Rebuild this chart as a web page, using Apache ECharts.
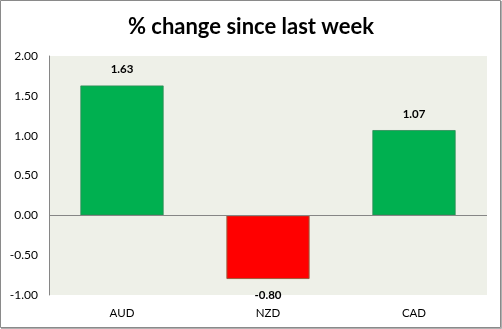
<!DOCTYPE html>
<html><head><meta charset="utf-8">
<script src="https://cdn.jsdelivr.net/npm/echarts@6/dist/echarts.min.js"></script>
<style>html,body{margin:0;padding:0;background:#fff}#c{width:502px;height:329px}</style>
</head><body><div id="c"></div>
<script>
const categories = ['AUD', 'NZD', 'CAD'];
const values = [1.63, -0.80, 1.07];
const yTicks = [-1.00, -0.50, 0.00, 0.50, 1.00, 1.50, 2.00];
const title = '% change since last week';

const chart = echarts.init(document.getElementById('c'), null, {renderer: 'canvas'});
const font = 'Lato, "Open Sans", sans-serif';
chart.setOption({
  animation: false,
  backgroundColor: '#ffffff',
  title: {text: title, left: 'center', top: 11,
    textStyle: {fontFamily: font, fontSize: 22, fontWeight: 'bold', color: '#000'}},
  grid: {left: 49, right: 15, top: 56, bottom: 34, show: true, backgroundColor: '#EEF0E8', borderWidth: 0},
  xAxis: {type: 'category', data: categories,
    axisLine: {show: false, onZero: false}, axisTick: {show: false},
    axisLabel: {fontFamily: font, fontSize: 11.5, color: '#000', margin: 12}},
  yAxis: {type: 'value', min: yTicks[0], max: yTicks[yTicks.length - 1], interval: 0.5,
    axisLine: {show: true, lineStyle: {color: '#868686'}}, axisTick: {show: false}, splitLine: {show: false},
    axisLabel: {fontFamily: font, fontSize: 12, color: '#000', margin: 11, formatter: v => v.toFixed(2)}},
  graphic: [{type: 'rect', shape: {x: 0.5, y: 0.5, width: 500, height: 327},
    style: {fill: 'none', stroke: '#8a8a8a', lineWidth: 1}, silent: true},
    {type: 'polyline', shape: {points: [[501.5, 1], [501.5, 328.5], [1, 328.5]]},
    style: {fill: 'none', stroke: '#b0b0b0', lineWidth: 1}, silent: true}],
  series: [{type: 'bar', barWidth: '57%',
    data: values.map(v => ({value: v,
      itemStyle: v >= 0 ? {color: '#00B050', borderColor: '#2E8B57', borderWidth: 0.8}
                        : {color: '#FF0000', borderColor: '#9C5A3C', borderWidth: 1},
      label: {position: v >= 0 ? 'top' : 'bottom'}})),
    label: {show: true, distance: 10, fontFamily: font, fontSize: 11.5, fontWeight: 'bold', color: '#000',
      formatter: p => p.value.toFixed(2)},
    markLine: {silent: true, symbol: 'none', label: {show: false},
      lineStyle: {color: '#868686', type: 'solid', width: 1}, data: [{yAxis: 0}]}
  }]
});
</script></body></html>
